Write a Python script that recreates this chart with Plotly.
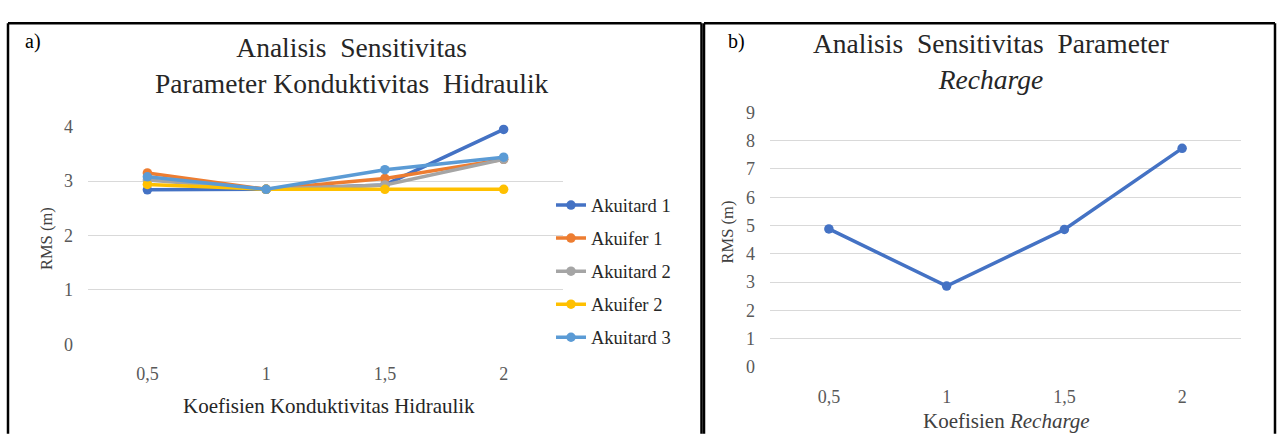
import plotly.graph_objects as go

W, H = 1279, 439

# ---------------- data ----------------
x_labels = ["0,5", "1", "1,5", "2"]

series_names = ["Akuitard 1", "Akuifer 1", "Akuitard 2", "Akuifer 2", "Akuitard 3"]
akuitard1 = [2.84, 2.85, 2.93, 3.95]
akuifer1 = [3.15, 2.85, 3.05, 3.40]
akuitard2 = [3.02, 2.85, 2.93, 3.40]
akuifer2 = [2.94, 2.85, 2.85, 2.85]
akuitard3 = [3.08, 2.85, 3.21, 3.44]

recharge = [4.88, 2.86, 4.86, 7.73]

colors = ["#4472C4", "#ED7D31", "#A5A5A5", "#FFC000", "#5B9BD5"]

FONT = "Liberation Serif, Times New Roman, serif"


def px_x(v):
    return v / W


def px_y(v):
    return 1 - v / H


fig = go.Figure()

for i, (name, vals) in enumerate(zip(series_names,
                                     [akuitard1, akuifer1, akuitard2, akuifer2, akuitard3])):
    fig.add_trace(go.Scatter(
        x=x_labels, y=vals, name=name, mode="lines+markers",
        line=dict(color=colors[i], width=3.5),
        marker=dict(color=colors[i], size=9.5),
        xaxis="x", yaxis="y", legendgroup=f"g{i}", cliponaxis=False,
    ))

fig.add_trace(go.Scatter(
    x=x_labels, y=recharge, name="Recharge", mode="lines+markers",
    line=dict(color="#4472C4", width=3.5),
    marker=dict(color="#4472C4", size=9.5),
    xaxis="x2", yaxis="y2", showlegend=False, cliponaxis=False,
))

tickfont = dict(family=FONT, size=18, color="#595959")
grid = "#D9D9D9"

common_x = dict(type="category", range=[-0.5, 3.5], showgrid=False, zeroline=False,
                showline=False, ticks="", tickfont=tickfont, ticklabelstandoff=17,
                fixedrange=True)
common_y = dict(showgrid=True, gridcolor=grid, gridwidth=1, zeroline=False, showline=False,
                ticks="", dtick=1, tickfont=tickfont, ticklabelstandoff=14, fixedrange=True)

fig.update_layout(
    width=W, height=H,
    margin=dict(l=0, r=0, t=0, b=0),
    paper_bgcolor="white", plot_bgcolor="white",
    font=dict(family=FONT, color="#262626"),
    xaxis=dict(domain=[px_x(88), px_x(563)], anchor="y", **common_x),
    yaxis=dict(domain=[px_y(350.3), px_y(122.3)], range=[0, 4], anchor="x", **common_y),
    xaxis2=dict(domain=[px_x(770), px_x(1241)], anchor="y2", **common_x),
    yaxis2=dict(domain=[px_y(374), px_y(107.3)], range=[0, 9], anchor="x2", **common_y),
    legend=dict(
        x=px_x(551), y=px_y(274), xanchor="left", yanchor="middle",
        font=dict(family=FONT, size=18.5, color="#262626"),
        bgcolor="rgba(0,0,0,0)", tracegroupgap=6, itemwidth=30,
    ),
    showlegend=True,
)

annotations = [
    dict(text="Analisis  Sensitivitas<br>Parameter Konduktivitas  Hidraulik",
         x=px_x(352), y=px_y(58), xanchor="center", yanchor="middle",
         font=dict(family=FONT, size=27.5, color="#262626")),
    dict(text="Analisis  Sensitivitas  Parameter<br><i>Recharge</i>",
         x=px_x(991), y=px_y(54), xanchor="center", yanchor="middle",
         font=dict(family=FONT, size=27.5, color="#262626")),
    dict(text="Koefisien Konduktivitas Hidraulik",
         x=px_x(329), y=px_y(415), xanchor="center", yanchor="middle",
         font=dict(family=FONT, size=21, color="#262626")),
    dict(text="Koefisien <i>Recharge</i>",
         x=px_x(1006), y=px_y(431), xanchor="center", yanchor="middle",
         font=dict(family=FONT, size=21, color="#404040")),
    dict(text="RMS (m)", textangle=-90,
         x=px_x(46), y=px_y(240), xanchor="center", yanchor="middle",
         font=dict(family=FONT, size=16.5, color="#404040")),
    dict(text="RMS (m)", textangle=-90,
         x=px_x(727), y=px_y(233), xanchor="center", yanchor="middle",
         font=dict(family=FONT, size=16.5, color="#404040")),
    dict(text="a)", x=px_x(23), y=px_y(33), xanchor="left", yanchor="middle",
         font=dict(family=FONT, size=20, color="#000000")),
    dict(text="b)", x=px_x(726), y=px_y(33), xanchor="left", yanchor="middle",
         font=dict(family=FONT, size=20, color="#000000")),
]
for a in annotations:
    a.update(xref="paper", yref="paper", showarrow=False)
fig.update_layout(annotations=annotations)

# panel frames (left, top, right edges; bottom is cut off)
frame = dict(color="#000000", width=2.5)
shapes = []
for (x0, x1) in [(8, 701.5), (704, 1275)]:
    shapes.append(dict(type="line", x0=px_x(x0), x1=px_x(x0), y0=px_y(14), y1=px_y(H + 5), line=frame))
    shapes.append(dict(type="line", x0=px_x(x0), x1=px_x(x1), y0=px_y(14), y1=px_y(14), line=frame))
    shapes.append(dict(type="line", x0=px_x(x1), x1=px_x(x1), y0=px_y(14), y1=px_y(H + 5), line=frame))
for s in shapes:
    s.update(xref="paper", yref="paper", layer="above")
fig.update_layout(shapes=shapes)

fig.write_html("out.html", config=dict(displayModeBar=False))
